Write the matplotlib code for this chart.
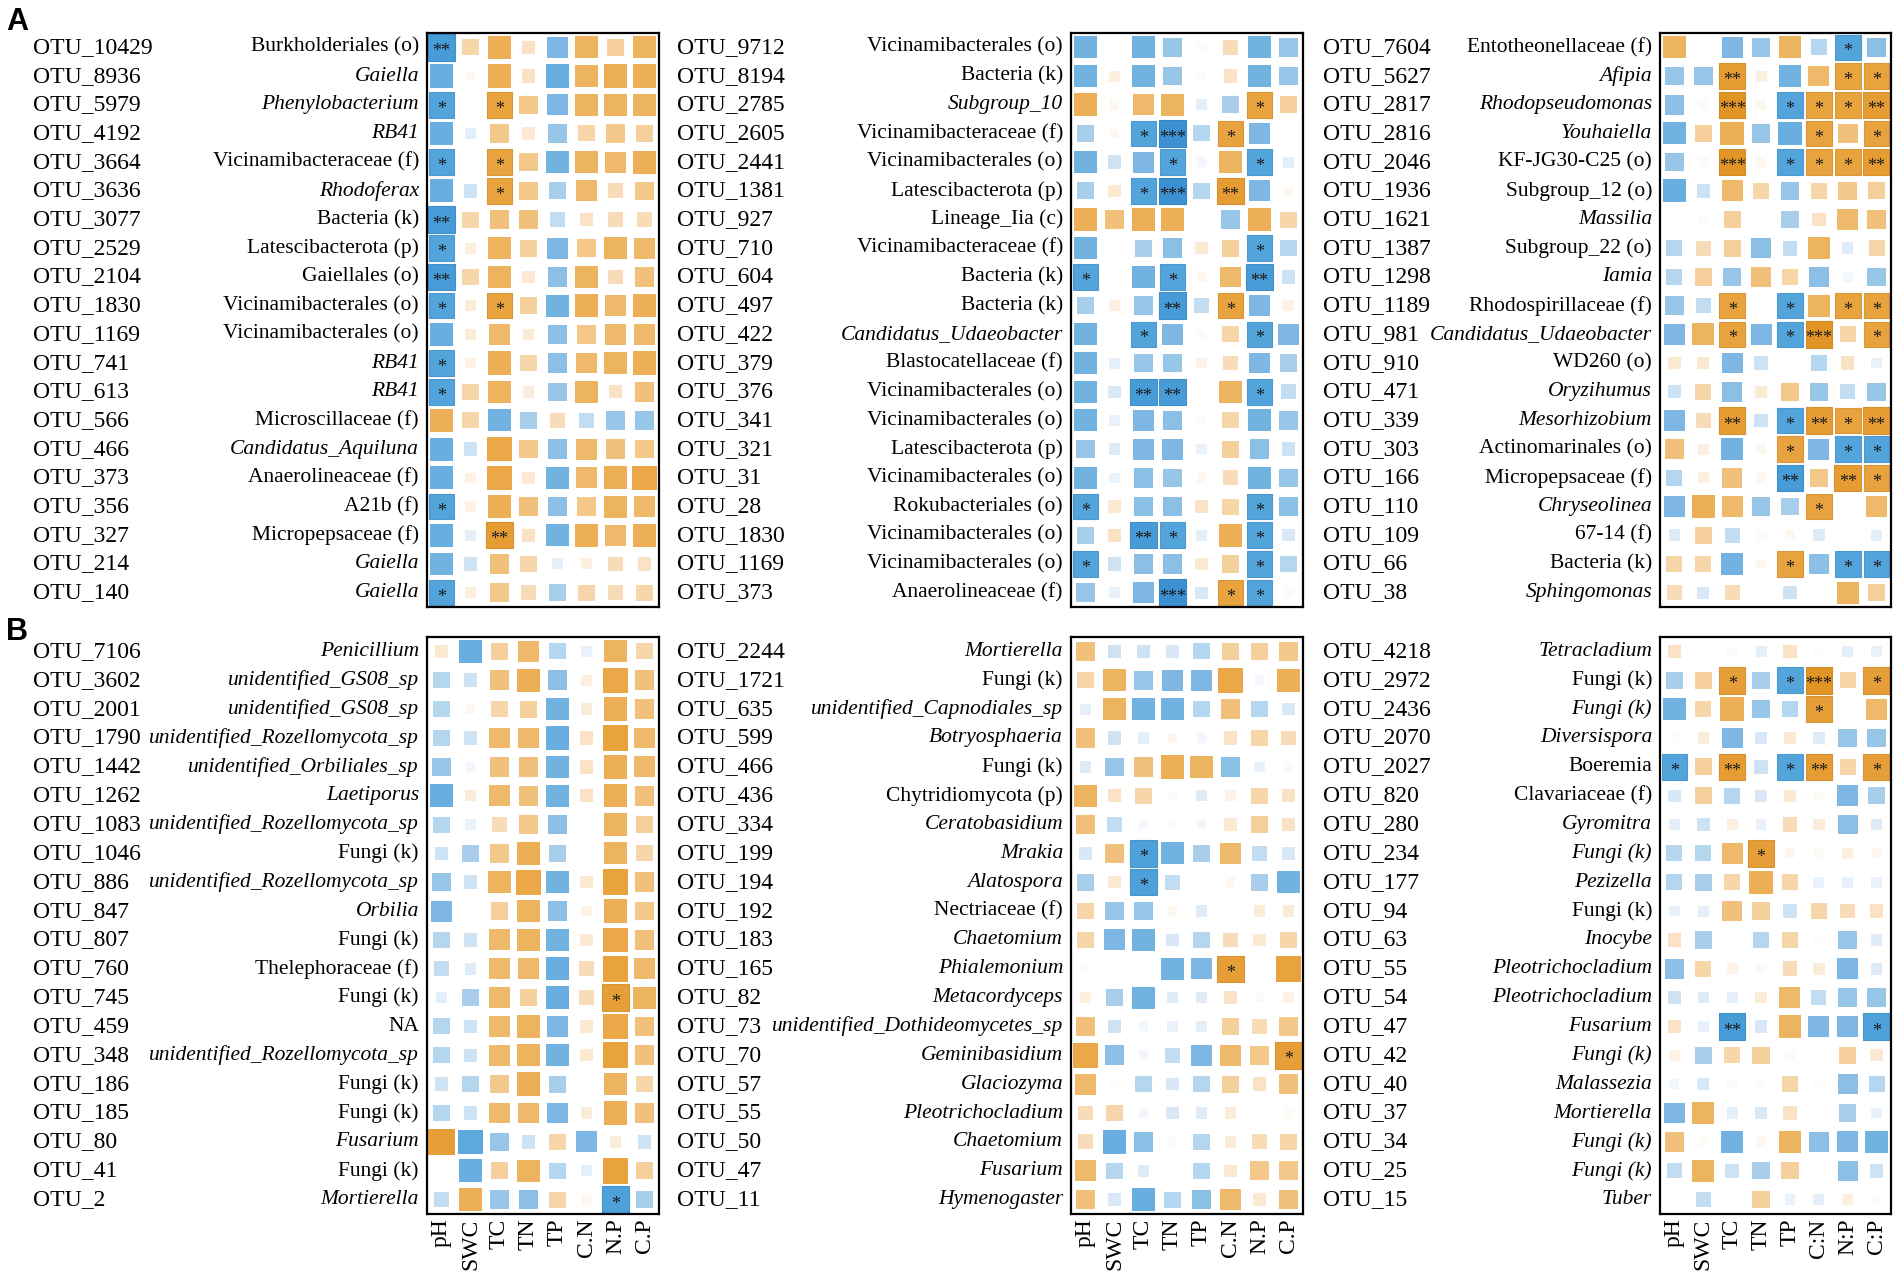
import numpy as np
import matplotlib.pyplot as plt
from matplotlib.colors import LinearSegmentedColormap
from matplotlib.patches import Rectangle
from matplotlib.transforms import blended_transform_factory

plt.rcParams['font.family'] = ['Liberation Serif', 'DejaVu Serif']

env_cols = ['pH', 'SWC', 'TC', 'TN', 'TP', 'C.N', 'N.P', 'C.P']
env_cols_b3 = ['pH', 'SWC', 'TC', 'TN', 'TP', 'C:N', 'N:P', 'C:P']

# ---------------- A (bacteria) ----------------
a1_otu = ['OTU_10429', 'OTU_8936', 'OTU_5979', 'OTU_4192', 'OTU_3664', 'OTU_3636', 'OTU_3077',
          'OTU_2529', 'OTU_2104', 'OTU_1830', 'OTU_1169', 'OTU_741', 'OTU_613', 'OTU_566',
          'OTU_466', 'OTU_373', 'OTU_356', 'OTU_327', 'OTU_214', 'OTU_140']
a1_taxa = ['Burkholderiales (o)', 'Gaiella', 'Phenylobacterium', 'RB41', 'Vicinamibacteraceae (f)',
           'Rhodoferax', 'Bacteria (k)', 'Latescibacterota (p)', 'Gaiellales (o)',
           'Vicinamibacterales (o)', 'Vicinamibacterales (o)', 'RB41', 'RB41', 'Microscillaceae (f)',
           'Candidatus_Aquiluna', 'Anaerolineaceae (f)', 'A21b (f)', 'Micropepsaceae (f)',
           'Gaiella', 'Gaiella']
a1_italic = [1, 2, 3, 5, 11, 12, 14, 18, 19]
a1_r = [[-0.8, 0.3, 0.6, 0.2, -0.5, 0.55, 0.35, 0.55],
        [-0.6, 0.05, 0.6, 0.2, -0.6, 0.55, 0.6, 0.6],
        [-0.7, 0, 0.7, 0.4, -0.5, 0.55, 0.55, 0.55],
        [-0.6, -0.1, 0.4, 0.15, -0.4, 0.3, 0.4, 0.35],
        [-0.7, 0, 0.7, 0.4, -0.55, 0.55, 0.5, 0.6],
        [-0.6, -0.2, 0.7, 0.4, -0.35, 0.5, 0.25, 0.4],
        [-0.8, 0.3, 0.45, 0.45, -0.25, 0.2, 0.25, 0.25],
        [-0.7, 0.1, 0.55, 0.35, -0.5, 0.4, 0.55, 0.5],
        [-0.8, 0.3, 0.55, 0.15, -0.45, 0.55, 0.25, 0.45],
        [-0.7, 0.12, 0.7, 0.35, -0.55, 0.6, 0.5, 0.6],
        [-0.6, 0.12, 0.5, 0.12, -0.45, 0.4, 0.5, 0.5],
        [-0.7, 0.08, 0.6, 0.3, -0.45, 0.5, 0.55, 0.6],
        [-0.7, 0.3, 0.55, 0.12, -0.4, 0.55, 0.2, 0.45],
        [0.6, 0.3, -0.55, -0.35, 0.25, -0.25, -0.4, -0.4],
        [-0.6, -0.2, 0.65, 0.4, -0.45, 0.5, 0.45, 0.4],
        [-0.6, 0.08, 0.65, 0.15, -0.55, 0.5, 0.6, 0.65],
        [-0.7, 0.08, 0.6, 0.45, -0.45, 0.4, 0.55, 0.5],
        [-0.6, -0.1, 0.8, 0.2, -0.55, 0.6, 0.5, 0.6],
        [-0.55, -0.2, 0.45, 0.3, -0.1, 0.1, 0.25, 0.2],
        [-0.7, 0.1, 0.4, 0.25, -0.35, 0.3, 0.25, 0.3]]
a1_sig = ['20000000', '00000000', '10100000', '00000000', '10100000', '00100000', '20000000',
          '10000000', '20000000', '10100000', '00000000', '10000000', '10000000', '00000000',
          '00000000', '00000000', '10000000', '00200000', '00000000', '10000000']

a2_otu = ['OTU_9712', 'OTU_8194', 'OTU_2785', 'OTU_2605', 'OTU_2441', 'OTU_1381', 'OTU_927',
          'OTU_710', 'OTU_604', 'OTU_497', 'OTU_422', 'OTU_379', 'OTU_376', 'OTU_341',
          'OTU_321', 'OTU_31', 'OTU_28', 'OTU_1830', 'OTU_1169', 'OTU_373']
a2_taxa = ['Vicinamibacterales (o)', 'Bacteria (k)', 'Subgroup_10', 'Vicinamibacteraceae (f)',
           'Vicinamibacterales (o)', 'Latescibacterota (p)', 'Lineage_Iia (c)',
           'Vicinamibacteraceae (f)', 'Bacteria (k)', 'Bacteria (k)', 'Candidatus_Udaeobacter',
           'Blastocatellaceae (f)', 'Vicinamibacterales (o)', 'Vicinamibacterales (o)',
           'Latescibacterota (p)', 'Vicinamibacterales (o)', 'Rokubacteriales (o)',
           'Vicinamibacterales (o)', 'Vicinamibacterales (o)', 'Anaerolineaceae (f)']
a2_italic = [2, 10]
a2_r = [[-0.55, 0, -0.55, -0.4, 0.03, 0.25, -0.55, -0.4],
        [-0.55, 0.1, -0.55, -0.4, 0.03, 0.2, -0.55, -0.4],
        [0.6, 0.05, 0.5, 0.55, -0.1, -0.35, 0.7, 0.35],
        [-0.35, 0.05, -0.7, -0.9, -0.3, 0.7, -0.5, 0],
        [-0.55, -0.2, -0.5, -0.7, -0.05, 0.55, -0.7, -0.1],
        [-0.35, 0.15, -0.7, -0.9, -0.3, 0.8, -0.5, 0.05],
        [0.6, 0.45, 0.6, 0.6, 0, -0.4, 0.6, 0.3],
        [-0.55, 0, -0.35, -0.45, 0.15, 0.35, -0.7, -0.3],
        [-0.7, 0, -0.55, -0.7, 0.05, 0.5, -0.8, -0.2],
        [-0.35, 0.1, -0.4, -0.8, -0.25, 0.7, -0.5, 0.08],
        [-0.55, 0, -0.7, -0.5, 0.03, 0.3, -0.7, -0.5],
        [-0.55, -0.1, -0.4, -0.4, 0.08, 0.25, -0.5, -0.35],
        [-0.55, -0.15, -0.8, -0.8, 0, 0.55, -0.7, -0.25],
        [-0.55, -0.08, -0.5, -0.45, 0.03, 0.3, -0.55, -0.4],
        [-0.4, -0.12, -0.5, -0.5, -0.08, 0.35, -0.45, -0.2],
        [-0.55, -0.08, -0.45, -0.4, 0.05, 0.25, -0.55, -0.4],
        [-0.7, 0.15, -0.45, -0.45, 0.2, 0.3, -0.7, -0.45],
        [-0.35, 0.2, -0.8, -0.7, -0.1, 0.6, -0.7, -0.15],
        [-0.7, -0.2, -0.45, -0.45, 0.15, 0.35, -0.7, -0.3],
        [-0.4, -0.08, -0.5, -0.9, -0.15, 0.7, -0.7, 0.03]]
a2_sig = ['00000000', '00000000', '00000010', '00130100', '00010010', '00130200', '00000000',
          '00000010', '10010020', '00020100', '00100010', '00000000', '00220010', '00000000',
          '00000000', '00000000', '10000010', '00210010', '10000010', '00030110']

a3_otu = ['OTU_7604', 'OTU_5627', 'OTU_2817', 'OTU_2816', 'OTU_2046', 'OTU_1936', 'OTU_1621',
          'OTU_1387', 'OTU_1298', 'OTU_1189', 'OTU_981', 'OTU_910', 'OTU_471', 'OTU_339',
          'OTU_303', 'OTU_166', 'OTU_110', 'OTU_109', 'OTU_66', 'OTU_38']
a3_taxa = ['Entotheonellaceae (f)', 'Afipia', 'Rhodopseudomonas', 'Youhaiella', 'KF-JG30-C25 (o)',
           'Subgroup_12 (o)', 'Massilia', 'Subgroup_22 (o)', 'Iamia', 'Rhodospirillaceae (f)',
           'Candidatus_Udaeobacter', 'WD260 (o)', 'Oryzihumus', 'Mesorhizobium',
           'Actinomarinales (o)', 'Micropepsaceae (f)', 'Chryseolinea', '67-14 (f)',
           'Bacteria (k)', 'Sphingomonas']
a3_italic = [1, 2, 3, 6, 8, 10, 12, 13, 16, 19]
a3_r = [[0.55, 0, -0.5, -0.4, 0.55, -0.3, -0.7, -0.45],
        [-0.4, -0.4, 0.8, 0.1, -0.55, 0.5, 0.7, 0.7],
        [-0.45, 0.03, 0.9, 0.05, -0.7, 0.7, 0.7, 0.8],
        [-0.55, 0.35, 0.6, -0.4, -0.6, 0.7, 0.45, 0.7],
        [-0.4, -0.03, 0.9, 0.05, -0.7, 0.7, 0.7, 0.8],
        [-0.6, -0.2, 0.5, 0.3, -0.4, 0.3, 0.4, 0.35],
        [0, -0.03, 0.35, 0, -0.35, 0.2, 0.5, 0.45],
        [-0.3, 0.25, 0.35, -0.45, -0.25, 0.55, -0.12, 0.3],
        [-0.3, 0.35, -0.4, 0.45, 0.3, -0.45, -0.05, -0.4],
        [-0.4, -0.25, 0.7, 0, -0.7, 0.55, 0.7, 0.7],
        [-0.5, 0.55, 0.7, -0.5, -0.7, 0.9, 0.3, 0.7],
        [0.15, 0.15, -0.5, -0.2, 0, -0.3, 0.2, -0.08],
        [-0.2, 0.3, -0.45, 0.15, 0.4, -0.4, -0.25, -0.4],
        [-0.5, 0.25, 0.8, -0.2, -0.7, 0.8, 0.7, 0.8],
        [0.45, 0.1, -0.55, 0.05, 0.7, -0.5, -0.7, -0.7],
        [-0.3, 0.1, 0.45, 0.05, -0.8, 0.4, 0.8, 0.7],
        [-0.5, 0.6, 0.5, -0.4, -0.35, 0.7, 0, 0.5],
        [-0.12, 0.35, -0.25, 0.03, 0.05, -0.12, 0, -0.1],
        [0.3, 0.3, -0.55, 0.05, 0.7, -0.45, -0.7, -0.7],
        [0.25, -0.15, 0.25, 0, -0.2, 0, 0.55, 0.35]]
a3_sig = ['00000010', '00200011', '00301112', '00000101', '00301112', '00000000', '00000000',
          '00000000', '00000000', '00101011', '00101301', '00000000', '00000000', '00201212',
          '00001011', '00002021', '00000100', '00000000', '00001011', '00000000']

# ---------------- B (fungi) ----------------
b1_otu = ['OTU_7106', 'OTU_3602', 'OTU_2001', 'OTU_1790', 'OTU_1442', 'OTU_1262', 'OTU_1083',
          'OTU_1046', 'OTU_886', 'OTU_847', 'OTU_807', 'OTU_760', 'OTU_745', 'OTU_459',
          'OTU_348', 'OTU_186', 'OTU_185', 'OTU_80', 'OTU_41', 'OTU_2']
b1_taxa = ['Penicillium', 'unidentified_GS08_sp', 'unidentified_GS08_sp',
           'unidentified_Rozellomycota_sp', 'unidentified_Orbiliales_sp', 'Laetiporus',
           'unidentified_Rozellomycota_sp', 'Fungi (k)', 'unidentified_Rozellomycota_sp',
           'Orbilia', 'Fungi (k)', 'Thelephoraceae (f)', 'Fungi (k)', 'NA',
           'unidentified_Rozellomycota_sp', 'Fungi (k)', 'Fungi (k)', 'Fusarium', 'Fungi (k)',
           'Mortierella']
b1_italic = [0, 1, 2, 3, 4, 5, 6, 8, 9, 14, 17, 19]
b1_r = [[0.15, -0.6, 0.35, 0.5, -0.3, -0.08, 0.55, 0.3],
        [-0.3, -0.2, 0.45, 0.6, -0.45, 0.1, 0.65, 0.45],
        [-0.3, 0.05, 0.3, 0.35, -0.55, 0.12, 0.6, 0.45],
        [-0.3, -0.2, 0.5, 0.5, -0.6, 0.2, 0.7, 0.5],
        [-0.4, -0.05, 0.45, 0.45, -0.55, 0.2, 0.6, 0.5],
        [-0.6, 0.12, 0.5, 0.45, -0.55, 0.2, 0.6, 0.45],
        [-0.3, -0.08, 0.25, 0.4, -0.45, 0, 0.55, 0.35],
        [-0.2, -0.35, 0.4, 0.6, -0.35, 0, 0.55, 0.3],
        [-0.4, -0.2, 0.55, 0.65, -0.55, 0.15, 0.7, 0.45],
        [-0.5, 0, 0.35, 0.55, -0.45, 0.08, 0.6, 0.4],
        [-0.3, -0.2, 0.5, 0.55, -0.55, 0.15, 0.65, 0.45],
        [-0.25, -0.12, 0.5, 0.5, -0.6, 0.25, 0.7, 0.5],
        [-0.1, -0.35, 0.5, 0.35, -0.6, 0.25, 0.75, 0.55],
        [-0.3, -0.2, 0.5, 0.55, -0.5, 0.15, 0.65, 0.45],
        [-0.3, -0.2, 0.5, 0.55, -0.55, 0.15, 0.7, 0.45],
        [-0.2, -0.3, 0.4, 0.6, -0.35, 0, 0.55, 0.3],
        [-0.3, -0.2, 0.5, 0.5, -0.5, 0.12, 0.6, 0.45],
        [0.75, -0.65, -0.4, -0.2, 0.3, -0.5, 0.12, -0.2],
        [0, -0.6, 0.35, 0.55, -0.3, -0.1, 0.7, 0.35],
        [-0.25, 0.6, -0.4, -0.45, 0.3, 0.05, -0.75, -0.35]]
b1_sig = ['00000000'] * 12 + ['00000010'] + ['00000000'] * 6 + ['00000010']

b2_otu = ['OTU_2244', 'OTU_1721', 'OTU_635', 'OTU_599', 'OTU_466', 'OTU_436', 'OTU_334',
          'OTU_199', 'OTU_194', 'OTU_192', 'OTU_183', 'OTU_165', 'OTU_82', 'OTU_73', 'OTU_70',
          'OTU_57', 'OTU_55', 'OTU_50', 'OTU_47', 'OTU_11']
b2_taxa = ['Mortierella', 'Fungi (k)', 'unidentified_Capnodiales_sp', 'Botryosphaeria',
           'Fungi (k)', 'Chytridiomycota (p)', 'Ceratobasidium', 'Mrakia', 'Alatospora',
           'Nectriaceae (f)', 'Chaetomium', 'Phialemonium', 'Metacordyceps',
           'unidentified_Dothideomycetes_sp', 'Geminibasidium', 'Glaciozyma',
           'Pleotrichocladium', 'Chaetomium', 'Fusarium', 'Hymenogaster']
b2_italic = [0, 2, 3, 6, 7, 8, 10, 11, 12, 13, 14, 15, 16, 17, 18, 19]
b2_r = [[0.45, -0.2, -0.2, -0.15, -0.3, 0.35, 0.35, 0.4],
        [0.3, 0.55, -0.4, -0.5, -0.5, 0.65, -0.05, 0.6],
        [-0.1, 0.55, -0.55, -0.55, -0.3, 0.45, -0.3, -0.15],
        [0.45, -0.2, -0.1, 0.05, -0.05, 0.2, 0.3, 0.25],
        [-0.12, -0.4, 0.45, 0.6, 0.55, -0.45, -0.08, -0.03],
        [0.55, 0.2, 0.3, -0.03, -0.12, 0.08, 0.3, 0.2],
        [0.45, -0.25, -0.05, 0.03, -0.05, 0.15, 0.35, 0.2],
        [-0.15, 0.45, -0.75, -0.55, -0.35, 0.5, -0.25, -0.15],
        [-0.35, 0.15, -0.75, -0.25, 0, 0.05, -0.35, -0.55],
        [0.3, -0.4, -0.4, 0.05, -0.12, 0, 0.12, 0.12],
        [0.3, -0.5, -0.55, -0.15, -0.3, 0.25, 0.15, 0.3],
        [0.03, 0, 0, -0.55, -0.5, 0.75, 0, 0.7],
        [0.1, -0.35, -0.55, -0.12, -0.12, 0.2, -0.03, 0.08],
        [0.45, -0.2, -0.05, -0.08, -0.1, 0.35, 0.25, 0.4],
        [0.65, -0.45, -0.05, -0.25, -0.5, 0.5, 0.4, 0.75],
        [0.5, 0.02, -0.3, -0.15, -0.3, 0.35, 0.2, 0.45],
        [0.25, 0.3, -0.05, -0.15, -0.12, 0.12, 0, 0.03],
        [0.25, -0.6, -0.45, -0.03, -0.3, 0.12, 0.25, 0.3],
        [0.5, -0.3, -0.12, 0, -0.3, 0.15, 0.4, 0.4],
        [0.45, -0.15, -0.6, -0.3, -0.45, 0.5, 0.15, 0.45]]
b2_sig = ['00000000'] * 7 + ['00100000', '00100000', '00000000', '00000000', '00000100',
                              '00000000', '00000000', '00000001'] + ['00000000'] * 5

b3_otu = ['OTU_4218', 'OTU_2972', 'OTU_2436', 'OTU_2070', 'OTU_2027', 'OTU_820', 'OTU_280',
          'OTU_234', 'OTU_177', 'OTU_94', 'OTU_63', 'OTU_55', 'OTU_54', 'OTU_47', 'OTU_42',
          'OTU_40', 'OTU_37', 'OTU_34', 'OTU_25', 'OTU_15']
b3_taxa = ['Tetracladium', 'Fungi (k)', 'Fungi (k)', 'Diversispora', 'Boeremia',
           'Clavariaceae (f)', 'Gyromitra', 'Fungi (k)', 'Pezizella', 'Fungi (k)', 'Inocybe',
           'Pleotrichocladium', 'Pleotrichocladium', 'Fusarium', 'Fungi (k)', 'Malassezia',
           'Mortierella', 'Fungi (k)', 'Fungi (k)', 'Tuber']
b3_italic = [0, 2, 3, 6, 7, 8, 10, 11, 12, 13, 14, 15, 16, 17, 18, 19]
b3_r = [[0.2, 0, -0.03, -0.1, 0.2, -0.02, -0.1, -0.08],
        [-0.35, 0.35, 0.75, -0.35, -0.7, 0.9, 0.3, 0.75],
        [-0.55, 0.3, 0.6, -0.4, -0.3, 0.75, 0, 0.5],
        [-0.02, 0.12, -0.5, -0.15, 0.15, -0.12, -0.4, -0.4],
        [-0.7, 0.35, 0.8, -0.2, -0.7, 0.8, 0.3, 0.75],
        [-0.15, 0.35, -0.3, -0.15, 0.15, 0.03, -0.5, -0.35],
        [-0.1, -0.2, 0.1, -0.08, 0.25, 0.12, -0.45, -0.12],
        [-0.3, -0.3, 0.5, 0.75, 0.05, 0.03, 0.1, 0.05],
        [-0.3, -0.35, 0.3, 0.6, 0.3, -0.08, -0.08, -0.08],
        [-0.08, -0.1, 0.45, 0.35, -0.2, 0.3, 0.25, 0.2],
        [0.2, -0.35, 0, -0.3, 0.3, 0.02, -0.4, -0.12],
        [-0.45, 0.3, 0.08, -0.03, 0.25, 0.12, -0.5, -0.12],
        [-0.2, -0.12, -0.1, 0.12, 0.5, -0.25, -0.4, -0.4],
        [0.2, -0.08, -0.8, -0.15, 0.55, -0.5, -0.5, -0.75],
        [0.08, -0.35, 0.3, 0.35, -0.03, 0, 0.35, 0.15],
        [-0.05, -0.15, -0.03, -0.02, 0.3, -0.02, -0.45, -0.3],
        [-0.5, 0.55, -0.1, -0.15, 0.2, 0, -0.35, -0.08],
        [0.45, 0.03, -0.55, 0.05, 0.55, -0.45, -0.5, -0.55],
        [-0.25, 0.55, -0.2, -0.35, 0.35, 0, -0.45, -0.2],
        [0, -0.25, 0, 0.35, -0.08, -0.1, 0.1, -0.02]]
b3_sig = ['00000000', '00101301', '00000100', '00000000', '10201201', '00000000', '00000000',
          '00010000', '00000000', '00000000', '00000000', '00000000', '00000000', '00200001',
          '00000000', '00000000', '00000000', '00000000', '00000000', '00000000']

# colour scale: blue (negative) - white - orange (positive)
cmap = LinearSegmentedColormap.from_list('bo', [
    (0.0, '#2f89cd'), (0.15, '#54a4dc'), (0.25, '#7db7e3'), (0.35, '#b6d6ef'),
    (0.45, '#e4eff9'), (0.5, '#ffffff'), (0.55, '#fcefdf'), (0.65, '#f7d7ab'),
    (0.75, '#efba6c'), (0.85, '#e8a33f'), (1.0, '#de8e1c')])

W, H = 1904, 1275
fig = plt.figure(figsize=(W / 100, H / 100), dpi=100)


def draw_panel(box, otu_x, otu, taxa, italic, r, sig, cols=None):
    x0, y0, x1, y1 = box
    ax = fig.add_axes([x0 / W, 1 - y1 / H, (x1 - x0) / W, (y1 - y0) / H])
    ax.set_xlim(0, 8)
    ax.set_ylim(20, 0)
    ax.set_xticks([])
    ax.set_yticks([])
    for sp in ax.spines.values():
        sp.set_linewidth(1.6)
    r = np.array(r)
    for i in range(r.shape[0]):
        for j in range(r.shape[1]):
            v = r[i, j]
            if v == 0:
                continue
            s = min(0.3 + 0.85 * abs(v), 0.92)
            fc = cmap((v + 1) / 2)
            n = int(sig[i][j])
            ec = tuple(c * 0.93 for c in fc[:3]) if n else 'none'
            ax.add_patch(Rectangle((j + 0.5 - s / 2, i + 0.5 - s / 2), s, s,
                                   facecolor=fc, edgecolor=ec, lw=0.8))
            if n:
                ax.text(j + 0.5, i + 0.66, '*' * n, ha='center', va='center',
                        fontsize=13, color='#1a1a1a')
    tr = blended_transform_factory(fig.transFigure, ax.transData)
    for i in range(len(otu)):
        ax.text(otu_x / W, i + 0.5, otu[i], transform=tr, ha='left', va='center',
                fontsize=17)
        ax.text((x0 - 8) / W, i + 0.5, taxa[i], transform=tr, ha='right', va='center',
                fontsize=15.5, style='italic' if i in italic else 'normal')
    if cols is not None:
        for j, c in enumerate(cols):
            ax.text(j + 0.5, 20.15, c, rotation=90, ha='center', va='top', fontsize=17)
    return ax


ya = (33, 607)
yb = (637, 1214)
xs = [(427, 659), (1071, 1303), (1660, 1891)]
otu_xs = [33, 677, 1323]

draw_panel((xs[0][0], ya[0], xs[0][1], ya[1]), otu_xs[0], a1_otu, a1_taxa, a1_italic, a1_r, a1_sig)
draw_panel((xs[1][0], ya[0], xs[1][1], ya[1]), otu_xs[1], a2_otu, a2_taxa, a2_italic, a2_r, a2_sig)
draw_panel((xs[2][0], ya[0], xs[2][1], ya[1]), otu_xs[2], a3_otu, a3_taxa, a3_italic, a3_r, a3_sig)
draw_panel((xs[0][0], yb[0], xs[0][1], yb[1]), otu_xs[0], b1_otu, b1_taxa, b1_italic, b1_r, b1_sig, env_cols)
draw_panel((xs[1][0], yb[0], xs[1][1], yb[1]), otu_xs[1], b2_otu, b2_taxa, b2_italic, b2_r, b2_sig, env_cols)
draw_panel((xs[2][0], yb[0], xs[2][1], yb[1]), otu_xs[2], b3_otu, b3_taxa, b3_italic, b3_r, b3_sig, env_cols_b3)

fig.text(6 / W, 1 - 22 / H, 'A', fontsize=22, fontweight='bold', family='Liberation Sans', va='center')
fig.text(6 / W, 1 - 632 / H, 'B', fontsize=22, fontweight='bold', family='Liberation Sans', va='center')

fig.savefig('out.png', dpi=100)
